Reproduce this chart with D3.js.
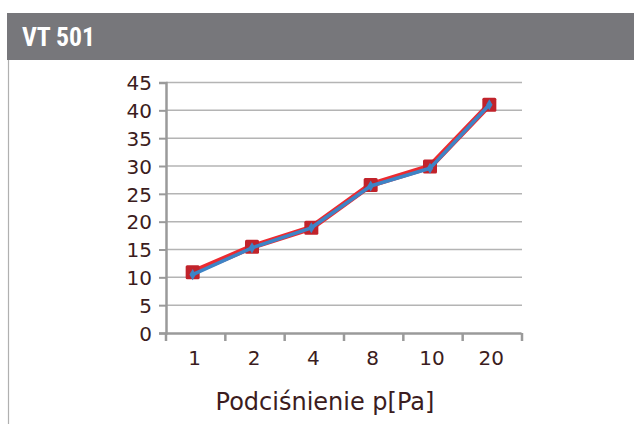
<!DOCTYPE html>
<html><head><meta charset="utf-8">
<script src="https://cdn.jsdelivr.net/npm/d3@7"></script>
<style>body{margin:0;background:#fff}svg{display:block}</style>
</head><body>
<svg id="c" width="634" height="424"></svg>
<script>
const title = "VT 501";
const categories = ["1", "2", "4", "8", "10", "20"];
const redValues = [10.9, 15.5, 18.9, 26.6, 29.9, 41.0];
const blueValues = [10.5, 15.3, 18.9, 26.4, 29.6, 41.0];
const yTicks = [0, 5, 10, 15, 20, 25, 30, 35, 40, 45];
const xTitle = "Podciśnienie p[Pa]";

const svg = d3.select("#c");
const textColor = "#3b1c20";
const font = "'DejaVu Sans', sans-serif";

// header band
svg.append("rect").attr("x", 7).attr("y", 13).attr("width", 627).attr("height", 47).attr("fill", "#77777b");
svg.append("text").attr("x", 22).attr("y", 46).text(title)
  .attr("fill", "#fff").attr("font-family", "'Liberation Sans Narrow','Roboto Condensed','Liberation Sans',sans-serif")
  .attr("font-weight", "bold").attr("font-size", 25).attr("textLength", 73).attr("lengthAdjust", "spacingAndGlyphs");
svg.append("line").attr("x1", 8.5).attr("x2", 8.5).attr("y1", 60).attr("y2", 424).attr("stroke", "#b0b0b0").attr("stroke-width", 1.2);

const x = d3.scaleBand().domain(categories).range([165, 521]);
const y = d3.scaleLinear().domain([0, 45]).range([333, 82.5]);
const axisColor = "#9a9a9a";

// gridlines
svg.append("g").selectAll("line").data(yTicks.filter(d => d > 0)).join("line")
  .attr("x1", 166).attr("x2", 522).attr("y1", d => y(d)).attr("y2", d => y(d))
  .attr("stroke", "#b4b4b4").attr("stroke-width", 1.5);

// y axis
const yAxis = svg.append("g").attr("transform", "translate(166,0)")
  .call(d3.axisLeft(y).tickValues(yTicks).tickSize(7).tickPadding(7));
yAxis.select(".domain").attr("stroke", axisColor).attr("stroke-width", 2.5);
yAxis.selectAll(".tick line").attr("stroke", axisColor).attr("stroke-width", 2);
yAxis.selectAll(".tick text").attr("fill", textColor).attr("font-family", font).attr("font-size", 20).attr("dy", "0.36em");

// x axis
const xAxis = svg.append("g").attr("transform", "translate(0,333)")
  .call(d3.axisBottom(x).tickSize(0).tickPadding(18));
xAxis.select(".domain").attr("stroke", axisColor).attr("stroke-width", 2.5);
xAxis.selectAll(".tick text").attr("fill", textColor).attr("font-family", font).attr("font-size", 20);
const bounds = categories.map(c => x(c)).concat([x(categories[categories.length - 1]) + x.bandwidth()]);
xAxis.selectAll(".btick").data(bounds).join("line").attr("class", "btick")
  .attr("x1", d => d + 1).attr("x2", d => d + 1).attr("y1", 0).attr("y2", 8)
  .attr("stroke", axisColor).attr("stroke-width", 2.5);

svg.append("text").attr("x", 325).attr("y", 410).attr("text-anchor", "middle")
  .attr("fill", textColor).attr("font-family", font).attr("font-size", 24).text(xTitle);

const cx = d => x(d) + x.bandwidth() / 2 - 2;

// red series
const redLine = d3.line().x((d, i) => cx(categories[i])).y(d => y(d));
svg.append("path").datum(redValues).attr("d", redLine).attr("fill", "none")
  .attr("stroke", "#ec2a30").attr("stroke-width", 6).attr("stroke-linejoin", "round");
svg.append("g").selectAll("rect").data(redValues).join("rect")
  .attr("x", (d, i) => cx(categories[i]) - 7).attr("y", d => y(d) - 7)
  .attr("width", 14).attr("height", 14).attr("rx", 1.5).attr("fill", "#c1232b");

// blue series
const blueLine = d3.line().x((d, i) => cx(categories[i])).y(d => y(d));
svg.append("path").datum(blueValues).attr("d", blueLine).attr("fill", "none")
  .attr("stroke", "#3d84c6").attr("stroke-width", 3.5).attr("stroke-linejoin", "round");
svg.append("g").selectAll("path.dm").data(blueValues).join("path").attr("class", "dm")
  .attr("d", d3.symbol(d3.symbolDiamond, 36))
  .attr("transform", (d, i) => `translate(${cx(categories[i])},${y(d)})`)
  .attr("fill", "#3d84c6");
</script>
</body></html>
